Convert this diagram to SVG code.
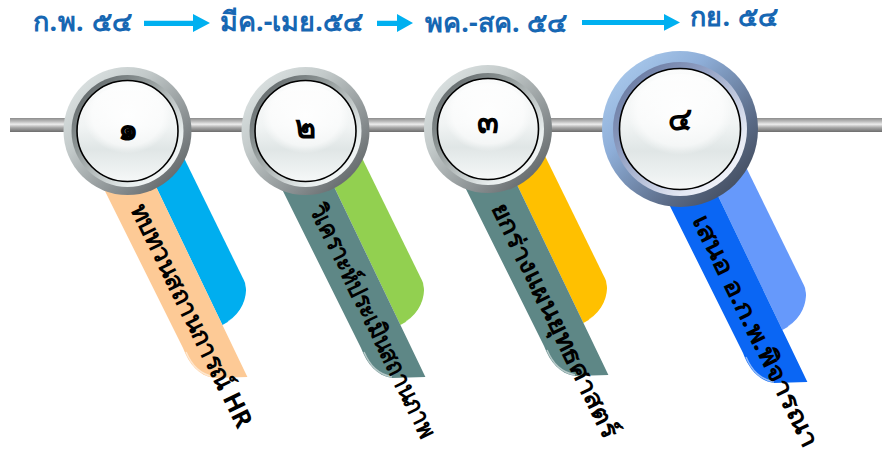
<svg xmlns="http://www.w3.org/2000/svg" width="882" height="459" viewBox="0 0 882 459">
  <style>
    .lbl { font-family: "Noto Sans", "DejaVu Sans", sans-serif; font-weight: bold; font-size: 27px; fill: #1767b3; }
    .num { font-family: "Noto Sans", "DejaVu Sans", sans-serif; font-weight: bold; font-size: 32px; fill: #000; text-anchor: middle; }
    .rib { font-family: "Noto Sans", "DejaVu Sans", sans-serif; font-weight: bold; font-size: 25px; fill: #000; }
    .arrow { fill: #00b0f0; }
    .gloss { fill: none; stroke: #ffffff; stroke-opacity: 0.55; stroke-width: 1.5; }
  </style>
  <defs>
    <linearGradient id="bar" x1="0" y1="0" x2="0" y2="1">
      <stop offset="0" stop-color="#8c8c8c"/>
      <stop offset="0.25" stop-color="#bdbdbd"/>
      <stop offset="0.45" stop-color="#ececec"/>
      <stop offset="0.7" stop-color="#a4a4a4"/>
      <stop offset="1" stop-color="#6c6c6c"/>
    </linearGradient>
    <linearGradient id="ringSilver" x1="0" y1="0" x2="1" y2="1">
      <stop offset="0" stop-color="#e6ecec"/>
      <stop offset="0.35" stop-color="#c3caca"/>
      <stop offset="0.7" stop-color="#868c8e"/>
      <stop offset="1" stop-color="#4c5153"/>
    </linearGradient>
    <linearGradient id="bevelSilver" x1="0" y1="0" x2="1" y2="1">
      <stop offset="0" stop-color="#4f5558"/>
      <stop offset="0.35" stop-color="#8d9595"/>
      <stop offset="0.75" stop-color="#e8eeee"/>
      <stop offset="1" stop-color="#ffffff"/>
    </linearGradient>
    <linearGradient id="ringBlue" x1="0" y1="0" x2="1" y2="1">
      <stop offset="0" stop-color="#b4d4f4"/>
      <stop offset="0.35" stop-color="#8eaed8"/>
      <stop offset="0.7" stop-color="#5a6a86"/>
      <stop offset="1" stop-color="#353c48"/>
    </linearGradient>
    <linearGradient id="bevelBlue" x1="0" y1="0" x2="1" y2="1">
      <stop offset="0" stop-color="#5a6c94"/>
      <stop offset="0.35" stop-color="#8d9cc0"/>
      <stop offset="0.75" stop-color="#e4e8f4"/>
      <stop offset="1" stop-color="#ffffff"/>
    </linearGradient>
    <linearGradient id="face" x1="0" y1="0" x2="0" y2="1">
      <stop offset="0" stop-color="#fbfcfc"/>
      <stop offset="0.45" stop-color="#f1f4f4"/>
      <stop offset="0.68" stop-color="#e0e6e6"/>
      <stop offset="0.88" stop-color="#edf1f1"/>
      <stop offset="1" stop-color="#f6f8f8"/>
    </linearGradient>
    <radialGradient id="shine" cx="0.5" cy="0.4" r="0.5">
      <stop offset="0" stop-color="#ffffff" stop-opacity="0.9"/>
      <stop offset="0.8" stop-color="#ffffff" stop-opacity="0.6"/>
      <stop offset="1" stop-color="#ffffff" stop-opacity="0"/>
    </radialGradient>

    <!-- ribbon pieces, drawn for the first stop and shifted for the others -->
    <path id="ribBack" d="M133.6,140 L175.2,140 L243.8,280 C250.4,293.5 241.8,315.5 222.4,325 Z"/>
    <path id="ribFront" d="M94.5,170 L183,348 C189,364 199,376 214,378 L247.4,377 L133.6,140 Z"/>
    <path id="ribGloss" d="M246,284 C249,296 244,312 228,322 M186,352 C192,366 200,374 214,377"/>

    <!-- silver knob -->
    <g id="knob">
      <circle r="64" fill="url(#ringSilver)"/>
      <circle r="56" fill="url(#bevelSilver)"/>
      <circle r="50.5" fill="url(#face)" stroke="#000" stroke-width="1.6"/>
      <ellipse cx="0" cy="-8" rx="44" ry="38" fill="url(#shine)"/>
    </g>
  </defs>

  <!-- rail -->
  <rect id="rail" x="10" y="118" width="872" height="14" fill="url(#bar)"/>

  <!-- period headings -->
  <g id="headings">
    <text class="lbl" x="33" y="31" textLength="99">ก.พ. ๕๔</text>
    <text class="lbl" x="220" y="31" textLength="143">มีค.-เมย.๕๔</text>
    <text class="lbl" x="425" y="32" textLength="142">พค.-สค. ๕๔</text>
    <text class="lbl" x="690" y="26" textLength="88">กย. ๕๔</text>
  </g>

  <g id="connectors">
    <path class="arrow" d="M144,20.7 H193 V14 L210,23 L193,32 V25.9 H144 Z"/>
    <path class="arrow" d="M377,20.7 H397 V14 L413,23 L397,32 V25.9 H377 Z"/>
    <path class="arrow" d="M582,20 H664 V14 L680,22.4 L664,30.7 V25 H582 Z"/>
  </g>

  <!-- step 1 -->
  <g id="step1">
    <use href="#ribBack" fill="#00aeef"/>
    <use href="#ribFront" fill="#fdca96"/>
    <use href="#ribGloss" class="gloss"/>
    <text class="rib" transform="translate(137,205) rotate(64)" y="8" textLength="246" lengthAdjust="spacingAndGlyphs">ทบทวนสถานการณ์ HR</text>
    <use href="#knob" x="127.5" y="131"/>
    <text class="num" x="127.5" y="140">๑</text>
  </g>

  <!-- step 2 -->
  <g id="step2">
    <g transform="translate(178,0)">
      <use href="#ribBack" fill="#92d050"/>
      <use href="#ribFront" fill="#5e8786"/>
      <use href="#ribGloss" class="gloss"/>
    </g>
    <text class="rib" transform="translate(316,205) rotate(64)" y="8" textLength="257" lengthAdjust="spacingAndGlyphs">วิเคราะห์ประเมินสถานภาพ</text>
    <use href="#knob" x="305.5" y="131"/>
    <text class="num" x="305.5" y="138">๒</text>
  </g>

  <!-- step 3 -->
  <g id="step3">
    <g transform="translate(361,-2)">
      <use href="#ribBack" fill="#ffc000"/>
      <use href="#ribFront" fill="#5e8786"/>
      <use href="#ribGloss" class="gloss"/>
    </g>
    <text class="rib" transform="translate(498,204) rotate(64)" y="8" textLength="258" lengthAdjust="spacingAndGlyphs">ยกร่างแผนยุทธศาสตร์</text>
    <use href="#knob" x="488" y="129"/>
    <text class="num" x="488" y="133">๓</text>
  </g>

  <!-- step 4 -->
  <g id="step4">
    <g transform="translate(560,5)">
      <use href="#ribBack" fill="#6699fb"/>
      <use href="#ribFront" fill="#0a66f4"/>
      <use href="#ribGloss" class="gloss"/>
    </g>
    <text class="rib" transform="translate(699,216) rotate(64)" y="8" textLength="256" lengthAdjust="spacingAndGlyphs">เสนอ อ.ก.พ.พิจารณา</text>
    <g transform="translate(680,129)">
      <circle r="78" fill="url(#ringBlue)"/>
      <circle r="67" fill="url(#bevelBlue)"/>
      <circle r="60.5" fill="url(#face)" stroke="#000" stroke-width="1.6"/>
      <ellipse cx="0" cy="-10" rx="53" ry="45" fill="url(#shine)"/>
    </g>
    <text class="num" x="680" y="130">๔</text>
  </g>
</svg>
